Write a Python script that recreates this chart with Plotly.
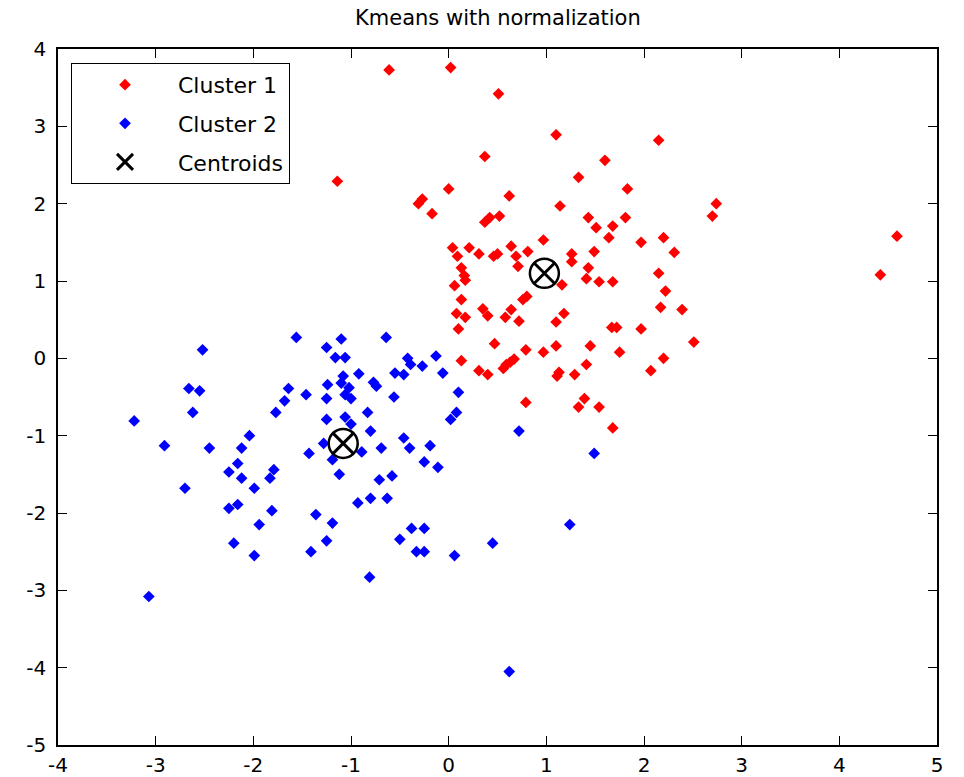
import plotly.graph_objects as go

# Cluster 1 (red)
c1_x = [-0.61, 0.02, 0.51, 1.10, 0.37, 1.60, 1.33, 0.00, 1.83, 0.62,
        -0.31, -0.27, 1.14, -0.17, 0.37, 0.42, 0.52, 1.43, 1.81, 1.51,
        1.68, 1.64, 0.97, 1.97, 0.04, 0.21, 0.64, 0.81, 0.09, 0.31,
        0.46, 0.50, 0.69, 1.26, 1.26, 1.49, 0.13, 0.71, 1.43, 0.16,
        0.17, 1.41, 1.54, 1.68, 0.06, 1.16, 2.15, 2.74, 2.70, 2.20,
        2.31, 2.15, 4.59, 4.42, 2.22, 2.17, 2.39, 1.97, 2.51, 2.20,
        2.07, 0.13, 0.08, 0.17, 0.10, 0.35, 0.40, 0.64, 0.58, 0.72,
        0.76, 0.80, 1.10, 1.18, 1.67, 1.72, 0.47, 0.79, 0.97, 1.10,
        1.45, 1.75, 0.13, 0.31, 0.40, 0.56, 0.59, 0.63, 0.67, 1.13,
        1.11, 1.29, 1.41, 0.79, 1.39, 1.33, 1.54, 1.68, -1.14]
c1_y = [3.73, 3.76, 3.42, 2.89, 2.61, 2.56, 2.34, 2.19, 2.19, 2.10,
        2.00, 2.06, 1.97, 1.87, 1.76, 1.82, 1.84, 1.82, 1.82, 1.69,
        1.71, 1.56, 1.53, 1.50, 1.43, 1.43, 1.45, 1.38, 1.32, 1.35,
        1.32, 1.35, 1.32, 1.35, 1.25, 1.38, 1.17, 1.19, 1.17, 1.07,
        1.01, 1.03, 0.99, 0.99, 0.94, 0.95, 2.82, 2.00, 1.84, 1.56,
        1.37, 1.10, 1.58, 1.08, 0.87, 0.66, 0.63, 0.38, 0.21, 0.00,
        -0.16, 0.76, 0.58, 0.53, 0.38, 0.64, 0.55, 0.63, 0.53, 0.48,
        0.76, 0.80, 0.47, 0.58, 0.40, 0.40, 0.19, 0.11, 0.08, 0.16,
        0.16, 0.08, -0.03, -0.16, -0.21, -0.13, -0.08, -0.05, -0.01, -0.18,
        -0.23, -0.21, -0.08, -0.57, -0.52, -0.63, -0.63, -0.90, 2.29]

# Cluster 2 (blue)
c2_x = [-1.56, -1.10, -1.25, -1.16, -1.06, -2.52, -1.08, -1.10, -1.24, -1.02,
        -0.92, -1.06, -1.00, -1.25, -1.46, -1.64, -1.68, -2.66, -2.55, -2.62,
        -3.22, -1.77, -1.25, -1.06, -1.00, -2.91, -2.45, -2.04, -2.12, -1.43,
        -1.28, -2.16, -2.25, -2.12, -1.79, -1.83, -1.99, -2.70, -1.19, -1.12,
        -2.25, -2.16, -1.81, -1.36, -0.93, -1.94, -2.20, -1.99, -1.19, -1.25,
        -1.41, -3.07, -0.38, -0.25, -0.50, -0.33, -0.25, 0.06, -0.81, 0.45,
        1.24, 0.62, -0.64, -0.42, -0.39, -0.27, -0.13, -0.06, -0.55, -0.46,
        -0.77, -0.74, -0.56, 0.10, -0.83, 0.08, 0.02, -0.80, -0.89, -0.69,
        -0.46, -0.40, -0.19, -0.25, -0.11, -0.71, -0.58, -0.80, -0.63, 0.72,
        1.49]
c2_y = [0.27, 0.25, 0.14, 0.01, 0.01, 0.11, -0.23, -0.32, -0.34, -0.38,
        -0.20, -0.47, -0.52, -0.52, -0.47, -0.39, -0.55, -0.39, -0.42, -0.70,
        -0.81, -0.70, -0.79, -0.76, -0.85, -1.13, -1.16, -1.00, -1.16, -1.23,
        -1.10, -1.36, -1.47, -1.55, -1.44, -1.55, -1.68, -1.68, -1.31, -1.50,
        -1.94, -1.89, -1.97, -2.02, -1.87, -2.15, -2.39, -2.55, -2.13, -2.36,
        -2.50, -3.08, -2.20, -2.20, -2.34, -2.50, -2.50, -2.55, -2.83, -2.39,
        -2.15, -4.05, 0.27, 0.00, -0.08, -0.10, 0.03, -0.19, -0.19, -0.21,
        -0.31, -0.36, -0.50, -0.44, -0.70, -0.70, -0.79, -0.94, -1.21, -1.16,
        -1.03, -1.16, -1.13, -1.34, -1.41, -1.57, -1.52, -1.81, -1.81, -0.94,
        -1.23]

# Centroids
cent_x = [0.98, -1.08]
cent_y = [1.10, -1.10]

# Tick values / labels (hyphen minus as in the reference)
x_ticks = [-4, -3, -2, -1, 0, 1, 2, 3, 4, 5]
x_tick_labels = ["-4", "-3", "-2", "-1", "0", "1", "2", "3", "4", "5"]
y_ticks = [-5, -4, -3, -2, -1, 0, 1, 2, 3, 4]
y_tick_labels = ["-5", "-4", "-3", "-2", "-1", "0", "1", "2", "3", "4"]

FONT = "DejaVu Sans"

fig = go.Figure()
fig.add_trace(go.Scatter(x=c1_x, y=c1_y, mode="markers", name="Cluster 1",
                         legendgroup="g1",
                         marker=dict(symbol="diamond", size=9, color="#ff0000",
                                     line=dict(width=0))))
fig.add_trace(go.Scatter(x=c2_x, y=c2_y, mode="markers", name="Cluster 2",
                         legendgroup="g2",
                         marker=dict(symbol="diamond", size=9, color="#0000ff",
                                     line=dict(width=0))))
fig.add_trace(go.Scatter(x=cent_x, y=cent_y, mode="markers", name="Centroids",
                         legendgroup="g3",
                         marker=dict(symbol="x-thin-open", size=22, color="black",
                                     line=dict(width=3, color="black"))))
fig.add_trace(go.Scatter(x=cent_x, y=cent_y, mode="markers", showlegend=False,
                         marker=dict(symbol="circle-open", size=29, color="black",
                                     line=dict(width=2.5, color="black"))))

axis_common = dict(
    showline=True, linecolor="black", linewidth=1.5, mirror="ticks",
    ticks="inside", ticklen=9, tickwidth=1, tickcolor="black",
    showgrid=False, zeroline=False, automargin=False,
    tickfont=dict(family=FONT, size=20, color="black"),
)

fig.update_layout(
    width=964, height=777,
    margin=dict(l=58, r=27, t=49, b=32),
    paper_bgcolor="white", plot_bgcolor="white",
    title=dict(text="Kmeans with normalization", x=0.5165, xanchor="center",
               y=1 - 18 / 777, yanchor="middle", automargin=False,
               font=dict(family=FONT, size=21, color="black")),
    xaxis=dict(range=[-4, 5], tickmode="array", tickvals=x_ticks,
               ticktext=x_tick_labels, ticklabelstandoff=1, **axis_common),
    yaxis=dict(range=[-5, 4], tickmode="array", tickvals=y_ticks,
               ticktext=y_tick_labels, ticklabelstandoff=6, **axis_common),
    legend=dict(x=0.0148, y=0.98, xanchor="left", yanchor="top",
                bgcolor="white", bordercolor="black", borderwidth=1,
                font=dict(family=FONT, size=22, color="black"),
                itemwidth=96, tracegroupgap=7),
    showlegend=True,
)

fig.write_html("out.html")
